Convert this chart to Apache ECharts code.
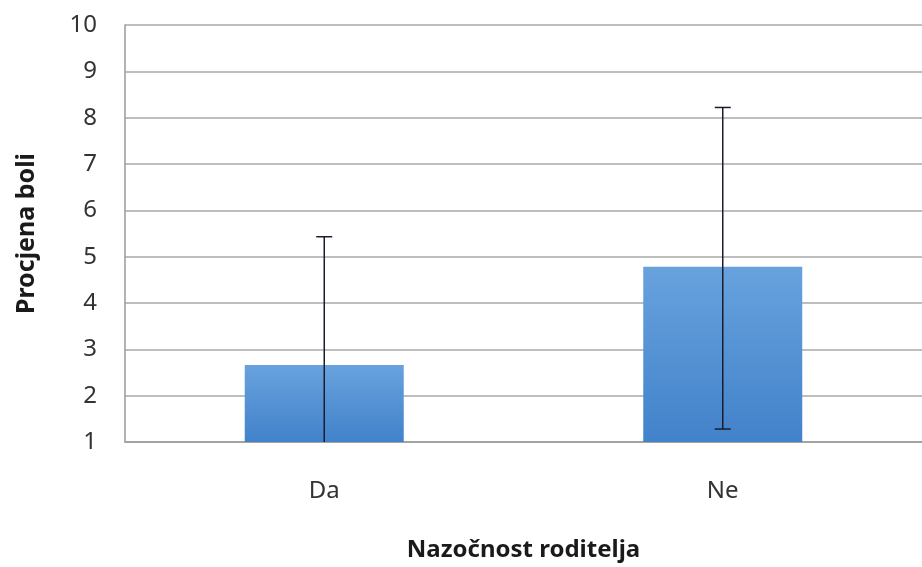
<!DOCTYPE html>
<html>
<head>
<meta charset="utf-8">
<script src="https://cdn.jsdelivr.net/npm/echarts@6/dist/echarts.min.js"></script>
<style>
  html, body { margin: 0; padding: 0; background: #fff; }
  #chart { width: 922px; height: 567px; }
</style>
</head>
<body>
<div id="chart"></div>
<script>
// categories and values
var categories = ["Da", "Ne"];
var means = [2.66, 4.78];
var errLow = [1.0, 1.28];
var errHigh = [5.43, 8.22];
var yTicks = [1, 2, 3, 4, 5, 6, 7, 8, 9, 10];

var font = "'Noto Sans', 'Open Sans', sans-serif";

var chart = echarts.init(document.getElementById("chart"));

var errData = categories.map(function (c, i) {
  return [i, errLow[i], errHigh[i]];
});

chart.setOption({
  animation: false,
  grid: {
    left: 125,
    top: 25,
    width: 804,
    height: 417
  },
  xAxis: {
    type: "category",
    data: categories,
    name: "Nazočnost roditelja",
    nameLocation: "middle",
    nameGap: 96,
    nameTextStyle: { fontFamily: font, fontSize: 24, fontWeight: "bold", color: "#1a1a1a" },
    axisLine: { lineStyle: { color: "#9a9a9a", width: 1.5 } },
    axisTick: { show: false },
    axisLabel: { fontFamily: font, fontSize: 24, color: "#333", margin: 37 },
    splitLine: { show: false }
  },
  yAxis: {
    type: "value",
    min: yTicks[0],
    max: yTicks[yTicks.length - 1],
    interval: 1,
    name: "Procjena boli",
    nameLocation: "middle",
    nameGap: 86,
    nameTextStyle: { fontFamily: font, fontSize: 25, fontWeight: "bold", color: "#1a1a1a" },
    axisLine: { show: true, lineStyle: { color: "#9a9a9a", width: 1.5 } },
    axisTick: { show: false },
    axisLabel: { fontFamily: font, fontSize: 24, color: "#333", margin: 28 },
    splitLine: { lineStyle: { color: "#a8a8a8", width: 1.5 } }
  },
  series: [
    {
      type: "bar",
      data: means,
      barWidth: 159,
      itemStyle: {
        color: new echarts.graphic.LinearGradient(0, 0, 0, 1, [
          { offset: 0, color: "#68a2de" },
          { offset: 1, color: "#4282ca" }
        ])
      },
      z: 2
    },
    {
      type: "custom",
      data: errData,
      z: 5,
      renderItem: function (params, api) {
        var x = api.value(0);
        var lo = api.coord([x, api.value(1)]);
        var hi = api.coord([x, api.value(2)]);
        var half = 8;
        var style = { stroke: "#1c1c2a", lineWidth: 1.5 };
        var children = [
          { type: "line", shape: { x1: hi[0], y1: hi[1], x2: lo[0], y2: lo[1] }, style: style },
          { type: "line", shape: { x1: hi[0] - half, y1: hi[1], x2: hi[0] + half, y2: hi[1] }, style: style }
        ];
        if (api.value(1) > yTicks[0]) {
          children.push({ type: "line", shape: { x1: lo[0] - half, y1: lo[1], x2: lo[0] + half, y2: lo[1] }, style: style });
        }
        return { type: "group", children: children };
      }
    }
  ]
});
</script>
</body>
</html>
